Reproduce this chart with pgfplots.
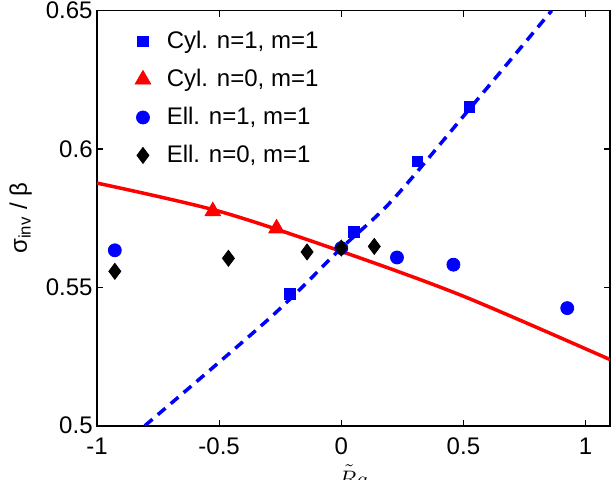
\documentclass[border=0pt]{standalone}
\usepackage{fontspec}
\setmainfont{Liberation Sans}
\usepackage{pgfplots}
\pgfplotsset{compat=1.18}
\usetikzlibrary{calc}
\begin{document}
\fontsize{12bp}{14bp}\selectfont
\begin{tikzpicture}
\begin{axis}[
  scale only axis, width=256.5bp, height=207.5bp,
  xmin=-1, xmax=1.1, ymin=0.5, ymax=0.65,
  xtick={-1,-0.5,0,0.5,1}, xticklabels={-1,-0.5,0,0.5,1},
  ytick={0.5,0.55,0.6,0.65}, yticklabels={0.5,0.55,0.6,0.65},
  tick align=inside, major tick length=3bp,
  tick style={black, line width=0.6bp},
  axis line style={line width=0.8bp},
  xticklabel style={yshift=-2bp},
  yticklabel style={xshift=2bp},
  /pgf/number format/assume math mode=true,
  xlabel={$\tilde{R}a$},
  xlabel style={at={(axis description cs:0.5,0)}, anchor=base, yshift=-30.65bp},
  ylabel={σ\textsubscript{inv} / β},
  ylabel style={at={(axis description cs:-0.149,0.5)}, anchor=center},
  legend style={draw=none, fill=none, at={(axis description cs:0.062,1)}, anchor=north west, yshift=-6bp,
    row sep=4.5bp,
    /tikz/every odd column/.append style={column sep=6bp}},
  legend cell align=left,
]
\addplot[red, line width=1.75bp, smooth, forget plot] coordinates {
  (-1,0.5877) (-0.5,0.5775) (0,0.5630) (0.5,0.5468) (1.1,0.5239)};
\addplot[blue, line width=1.75bp, smooth, dash pattern=on 5bp off 3.5bp, forget plot] coordinates {
  (-0.804,0.500) (-0.294,0.5388) (-0.008,0.5635) (0.21,0.5816) (0.525,0.6145) (0.861,0.650)};

\addplot[only marks, mark=square*, blue, mark size=2.6bp] coordinates {
  (-0.210,0.5477) (0.051,0.5700) (0.312,0.5955) (0.525,0.6152)};
\addlegendentry{Cyl. n=1, m=1}
\addplot[only marks, mark=triangle*, red, mark size=4.5bp] coordinates {
  (-0.526,0.5775) (-0.265,0.5713)};
\addlegendentry{Cyl. n=0, m=1}
\addplot[only marks, mark=*, blue, mark size=3.25bp] coordinates {
  (-0.927,0.5634) (0,0.5642) (0.228,0.5608) (0.459,0.5582) (0.925,0.5425)};
\addlegendentry{Ell. n=1, m=1}
\addplot[only marks, mark=diamond*, black, mark size=4bp] coordinates {
  (-0.927,0.5558) (-0.462,0.5605) (-0.140,0.5628) (0,0.5642) (0.135,0.5648)};
\addlegendentry{Ell. n=0, m=1}
\end{axis}
\pgfresetboundingbox
\path[use as bounding box] ($(current axis.south west)+(-48.5bp,-27.15bp)$) rectangle ($(current axis.north east)+(0.5bp,5.35bp)$);
\end{tikzpicture}
\end{document}
